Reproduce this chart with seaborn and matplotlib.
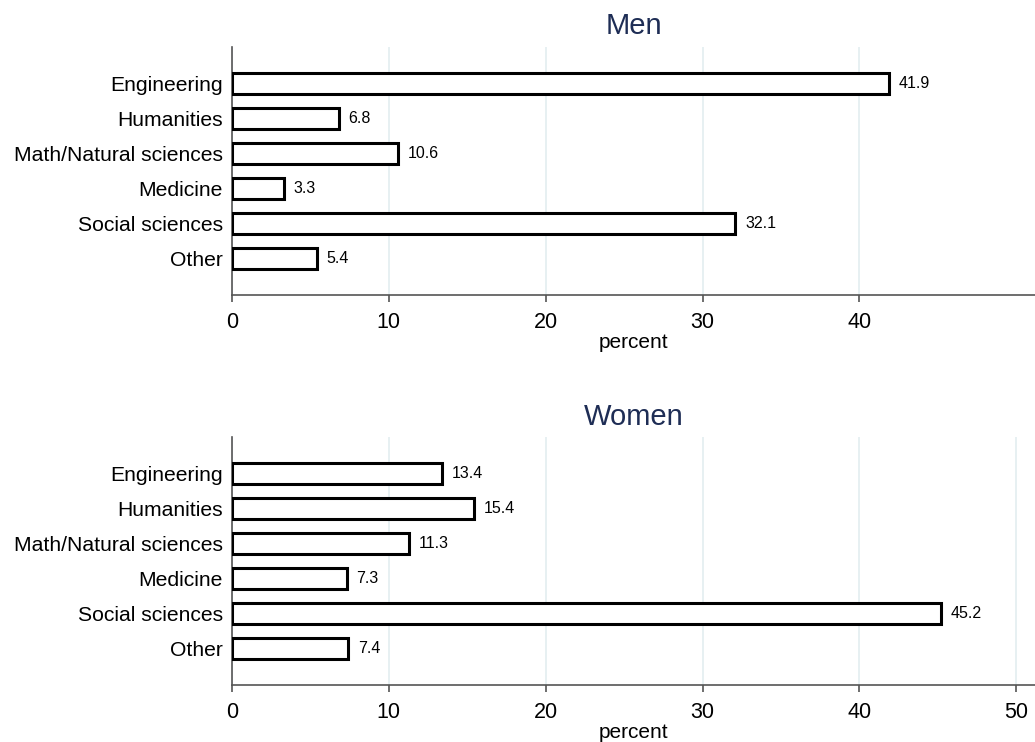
import pandas as pd
import matplotlib
matplotlib.use("Agg")
import matplotlib.pyplot as plt
import seaborn as sns

fields = ["Engineering", "Humanities", "Math/Natural sciences", "Medicine",
          "Social sciences", "Other"]
men_pct = [41.9, 6.8, 10.6, 3.3, 32.1, 5.4]
women_pct = [13.4, 15.4, 11.3, 7.3, 45.2, 7.4]

sns.set_style("white")
plt.rcParams['font.family'] = ['Liberation Sans', 'DejaVu Sans']
plt.rcParams['text.color'] = 'black'
plt.rcParams['axes.labelcolor'] = 'black'
plt.rcParams['xtick.color'] = 'black'
plt.rcParams['ytick.color'] = 'black'

fig = plt.figure(figsize=(10.35, 7.42), dpi=100)
ax_men = fig.add_axes([0.2242, 0.6024, 0.7758, 0.3343])
ax_women = fig.add_axes([0.2242, 0.0768, 0.7758, 0.3342])

panels = [
    (ax_men, "Men", men_pct, [0, 10, 20, 30, 40]),
    (ax_women, "Women", women_pct, [0, 10, 20, 30, 40, 50]),
]

for ax, title, vals, ticks in panels:
    df = pd.DataFrame({'field': fields, 'percent': vals})
    sns.barplot(data=df, x='percent', y='field', orient='h', ax=ax,
                color='white', edgecolor='black', linewidth=2.2, width=0.6,
                zorder=3)
    ax.set_xlim(0, 51.2)
    ax.set_ylim(6.05, -1.05)
    ax.set_xticks(ticks)
    ax.grid(axis='x', color='#e3edf0', linewidth=1.2, zorder=0)
    ax.set_axisbelow(True)
    for s in ['top', 'right']:
        ax.spines[s].set_visible(False)
    for s in ['left', 'bottom']:
        ax.spines[s].set_color('#555555')
        ax.spines[s].set_linewidth(1.2)
    ax.tick_params(axis='x', bottom=True, length=5, width=1.2,
                   color='#555555', labelsize=15.5, pad=7)
    ax.tick_params(axis='y', left=False, labelsize=15.2, pad=3)
    ax.set_xlabel('percent', fontsize=15, labelpad=0)
    ax.set_ylabel('')
    ax.set_title(title, fontsize=21, color='#1e2d55', pad=9)
    ax.bar_label(ax.containers[0], fmt='%.1f', padding=7, fontsize=11.5)

fig.savefig('out.png', dpi=100)
